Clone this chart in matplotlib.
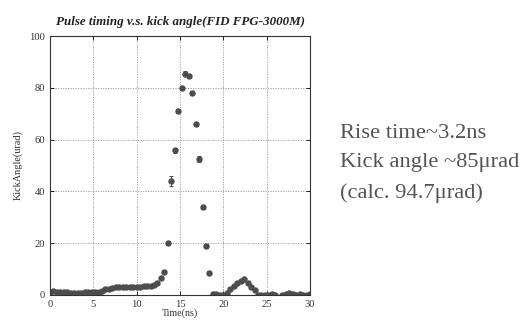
import matplotlib
matplotlib.use("Agg")
import matplotlib.pyplot as plt

time_ns = [0.0, 0.4, 0.8, 1.2, 1.6, 2.0, 2.4, 2.8, 3.2, 3.6, 4.0, 4.4, 4.8, 5.2, 5.6, 6.0,
           6.4, 6.8, 7.2, 7.6, 8.0, 8.4, 8.8, 9.2, 9.6, 10.0, 10.4, 10.8, 11.2, 11.6, 12.0,
           12.4, 12.8, 13.2, 13.6, 14.0, 14.4, 14.8, 15.2, 15.6, 16.0, 16.4, 16.8, 17.2,
           17.6, 18.0, 18.4, 18.8, 19.2, 19.6, 20.0, 20.4, 20.8, 21.2, 21.6, 22.0, 22.4,
           22.8, 23.2, 23.6, 24.0, 24.4, 24.8, 25.2, 25.6, 26.0, 26.8, 27.2, 27.6, 28.0,
           28.4, 28.8, 29.2, 29.6, 30.0]
kick_urad = [1.0, 1.5, 1.2, 1.1, 1.0, 1.0, 0.9, 0.9, 0.9, 0.9, 1.0, 1.0, 1.1, 1.2, 1.3, 1.5,
             2.3, 2.5, 2.7, 2.9, 3.0, 3.1, 3.0, 3.0, 2.9, 2.9, 3.0, 3.4, 3.6, 3.4, 3.8,
             4.8, 6.5, 9.0, 20.2, 44.0, 55.8, 71.2, 80.0, 85.5, 84.5, 78.0, 66.0, 52.5,
             34.0, 19.0, 8.5, 0.2, 0.2, 0.1, 0.0, 0.8, 2.5, 3.5, 4.5, 5.5, 6.0,
             4.5, 3.0, 2.0, 0.0, 0.0, 0.1, 0.0, 0.2, 0.0, 0.1, 0.2, 0.6, 0.2,
             0.1, 0.3, 0.0, 0.1, 0.5]
kick_err = [0.3] * 34 + [0.8, 1.8, 0.8, 0.8, 0.8, 0.8, 0.8, 0.8, 0.8, 1.0, 0.8, 0.8, 0.6] + [0.3] * 28

title = "Pulse timing v.s. kick angle(FID FPG-3000M)"
xlabel = "Time(ns)"
ylabel = "KickAngle(urad)"
notes = ["Rise time~3.2ns", "Kick angle ~85\u03bcrad", "(calc. 94.7\u03bcrad)"]
xticks = [0, 5, 10, 15, 20, 25, 30]
yticks = [0, 20, 40, 60, 80, 100]

plt.rcParams['font.family'] = ['Liberation Serif', 'DejaVu Serif']

fig = plt.figure(figsize=(5.24, 3.20), dpi=100)
ax = fig.add_axes([50/524, 1-295/320, 260/524, 259/320])
ax.errorbar(time_ns, kick_urad, yerr=kick_err, fmt='o', color='#4d4d4d', ms=3.6,
            elinewidth=0.7, capsize=1.2, capthick=0.7, mec='#4d4d4d')
ax.set_xlim(0, 30)
ax.set_ylim(0, 100)
ax.set_xticks(xticks)
ax.set_yticks(yticks)
ax.grid(True, color='#999999', linestyle=(0, (1.5, 1.5)), linewidth=0.6)
ax.tick_params(direction='in', top=True, right=True, length=3, width=0.6,
               labelsize=7.6, labelcolor='#333333', pad=3.5)
for s in ax.spines.values():
    s.set_linewidth(0.8)
    s.set_color('#333333')
ax.set_title(title, fontsize=9.4, fontweight='bold', fontstyle='italic', pad=8, color='#222222')
ax.set_xlabel(xlabel, fontsize=7.2, color='#333333', labelpad=0)
ax.set_ylabel(ylabel, fontsize=7.4, color='#333333', labelpad=5)

for i, line in enumerate(notes):
    fig.text(340/524, 1 - (133 + 30*i)/320, line, fontsize=16.2, color='#555555',
             va='center', ha='left')

fig.savefig("out.png", dpi=100)
